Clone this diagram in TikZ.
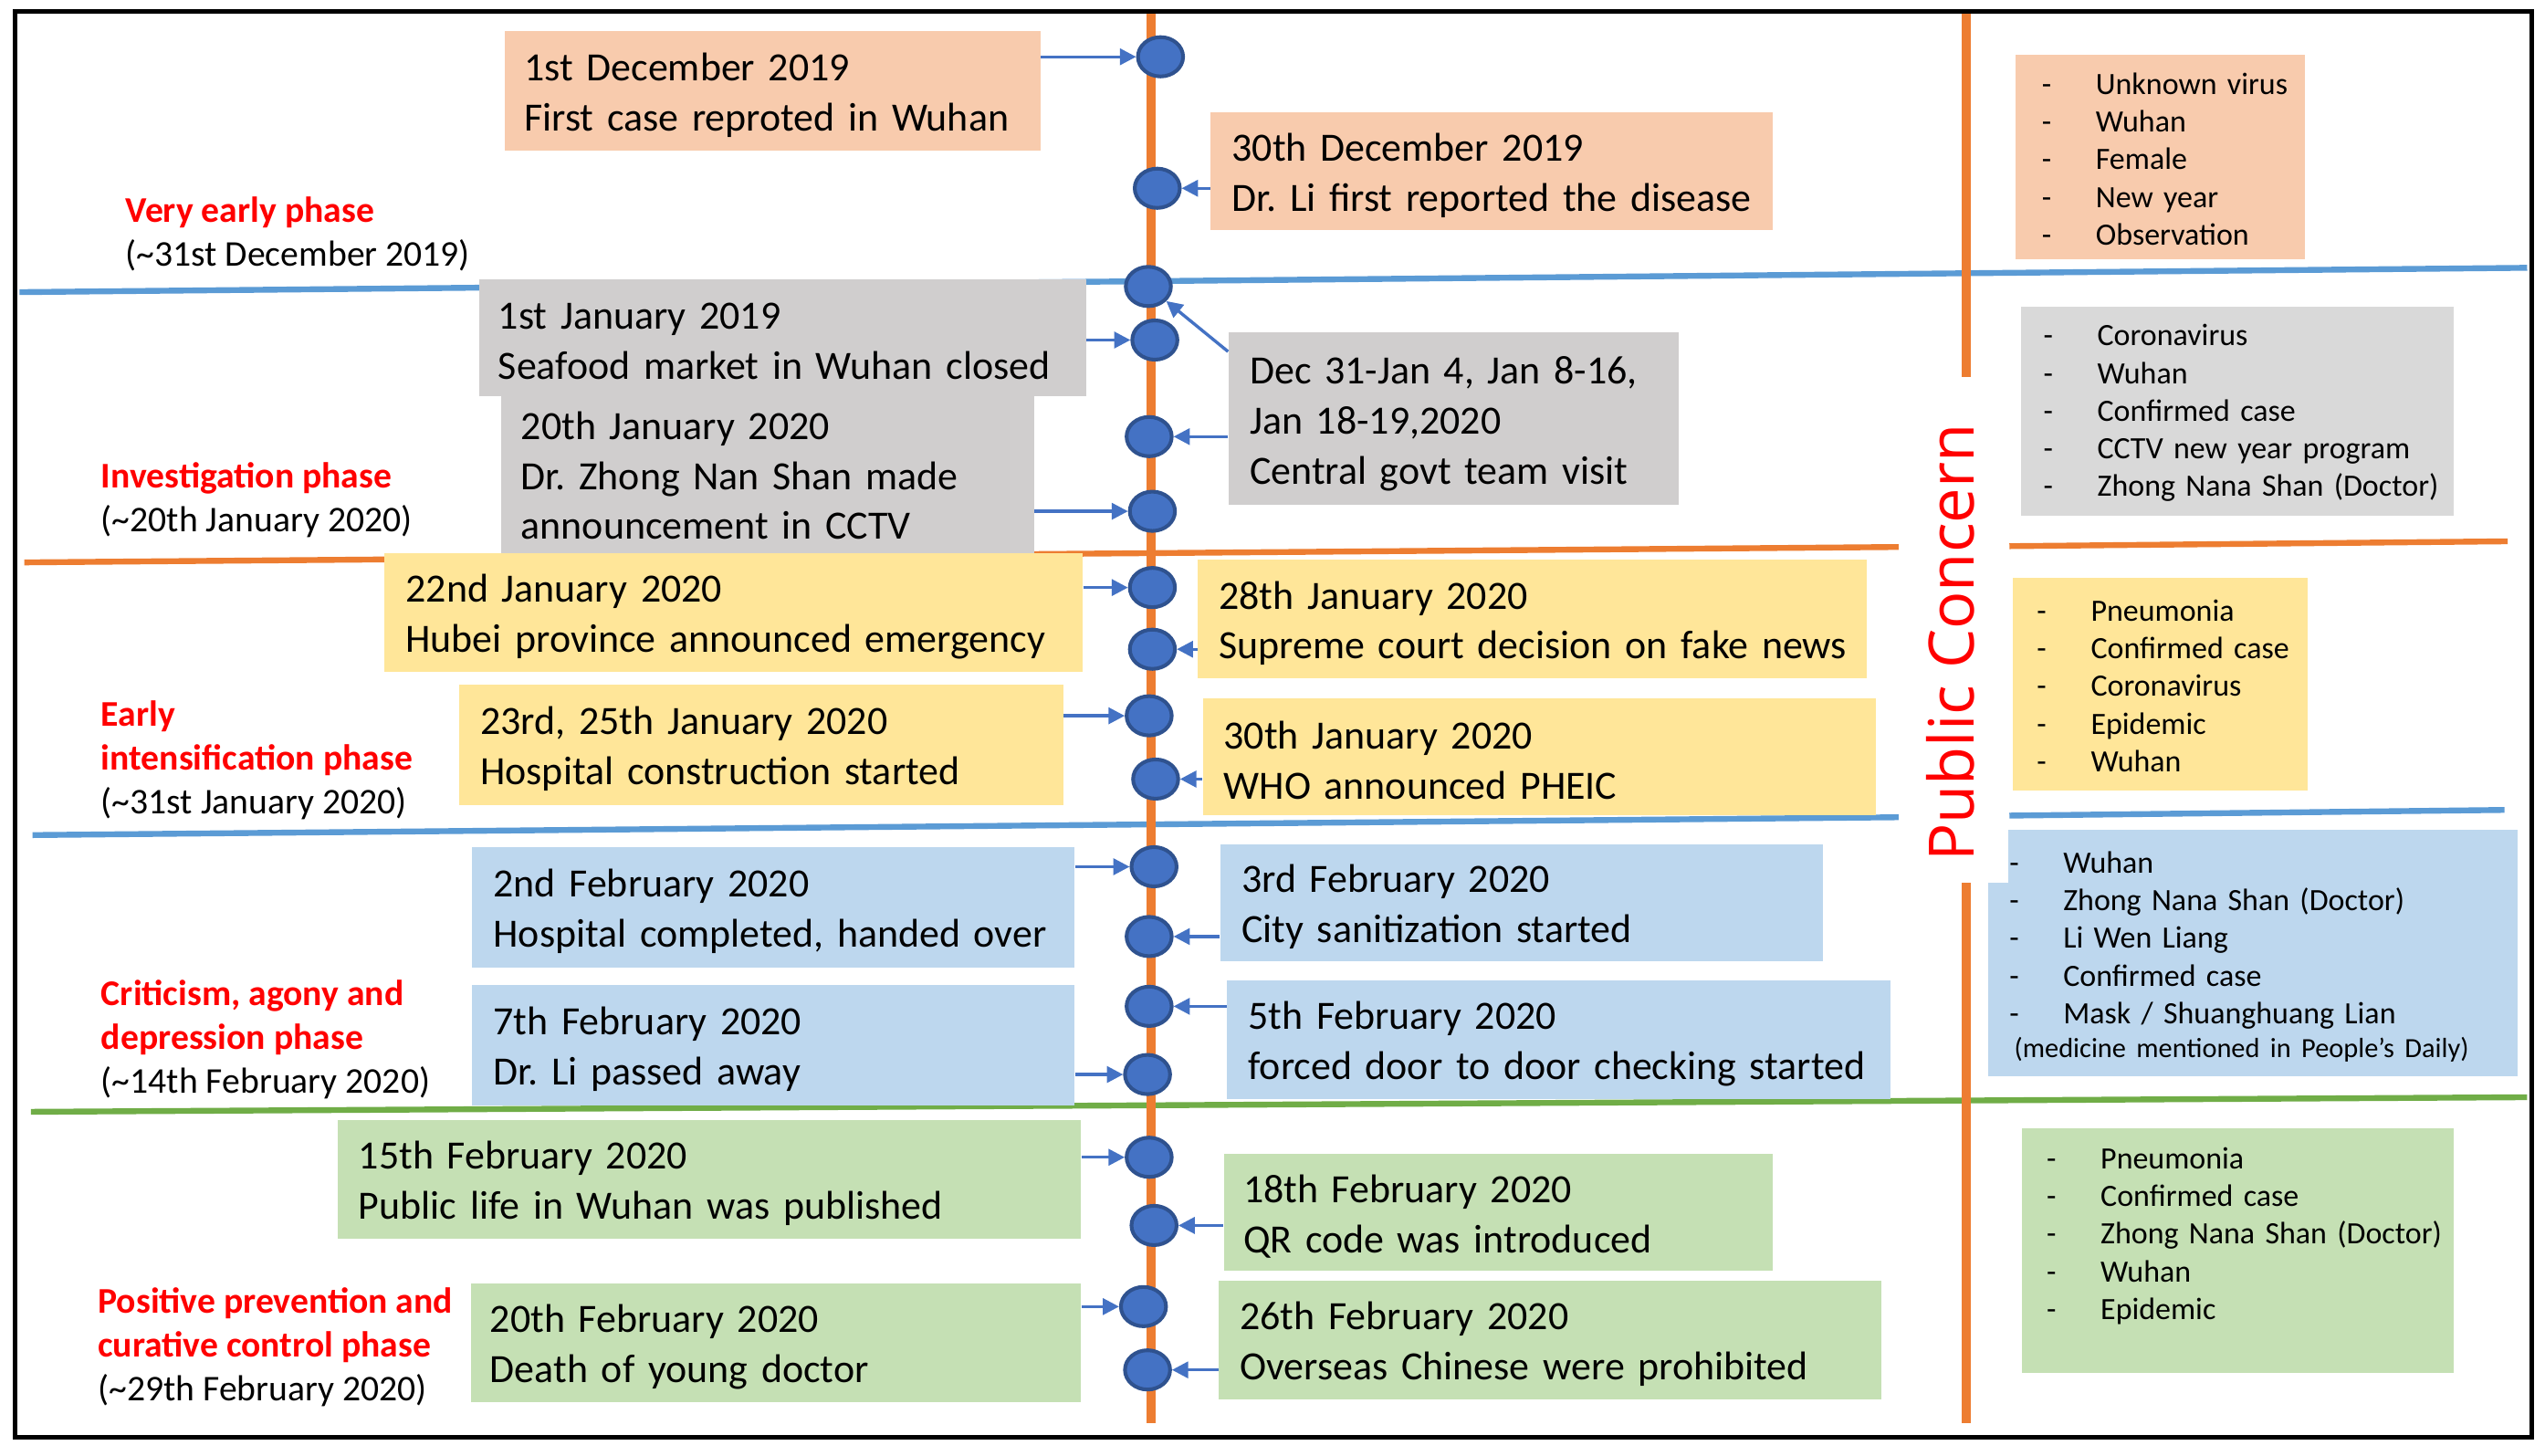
\documentclass[tikz,border=0pt]{standalone}
\usepackage{fontspec}
\setmainfont{Carlito}
\newfontfamily\pcfont{Open Sans}
\usetikzlibrary{arrows.meta,calc,shapes.geometric}
\frenchspacing
\definecolor{tlorange}{RGB}{237,125,49}
\definecolor{tlblue}{RGB}{68,114,196}
\definecolor{tlblueedge}{RGB}{47,82,143}
\definecolor{sepblue}{RGB}{91,155,213}
\definecolor{sepgreen}{RGB}{112,173,71}
\definecolor{peach}{RGB}{248,203,173}
\definecolor{grayev}{RGB}{208,206,206}
\definecolor{graykw}{RGB}{217,217,217}
\definecolor{yellowbx}{RGB}{255,230,153}
\definecolor{bluebx}{RGB}{189,215,238}
\definecolor{greenbx}{RGB}{197,224,180}
\newcommand\evfont{\fontsize{12.35pt}{15.45pt}\selectfont}
\newcommand\kwfont{\fontsize{9.55pt}{11.6pt}\selectfont}
\newcommand\phfont{\fontsize{11.15pt}{13.5pt}\selectfont}
\newcommand\evshift{1.25pt}
\newcommand\kwshift{0.5pt}
\newcommand\txl[1]{\mbox{\raisebox{-\evshift}[\height][\depth]{#1}}}
\newcommand\kwi[1]{\mbox{\raisebox{-\kwshift}[\height][\depth]{\makebox[16.6pt][l]{-}#1}}}
\newcommand\mkbox[9]{%
  \pgfmathsetmacro\bxW{(#4-#2)*0.5}%
  \pgfmathsetmacro\bxH{(#5-#3)*0.5}%
  \pgfmathsetmacro\bxT{(#4-#2-2*#7)*0.5}%
  \pgfmathsetmacro\bxP{#7*0.5}%
  \node[fill=#6, inner ysep=0pt, inner xsep=\bxP pt, minimum width=\bxW pt,
        minimum height=\bxH pt, text width=\bxT pt, align=left, font=#8]
        (#1) at ({(#2+#4)/2},{(#3+#5)/2}) {#9};}
\tikzset{
  dot/.style={ellipse, draw=tlblueedge, fill=tlblue, line width=1.15pt,
              minimum width=13.9pt, minimum height=12.1pt, inner sep=0pt},
  arr/.style={draw=tlblue, line width=0.95pt, -{Triangle[length=5pt,width=5pt]}},
  phase/.style={anchor=west, align=left, inner sep=0pt, font=\phfont},
  sep/.style={line width=1.8pt}
}
\begin{document}
\begin{tikzpicture}[x=0.5pt,y=-0.5pt]
\useasboundingbox (0,0) rectangle (1568,897);
\fill[white] (0,0) rectangle (1568,897);

% phase separators
\draw[sep, sepblue] (12,180) -- (1557,165);
\draw[sep, tlorange] (15,346.5) -- (1170,337);
\draw[sep, tlorange] (1238,336.5) -- (1545,333.5);
\draw[sep, sepblue] (20,514.5) -- (1170,503.5);
\draw[sep, sepblue] (1238,502.5) -- (1543,499);
\draw[sep, sepgreen] (19,685) -- (1557,676);

% vertical lines
\draw[tlorange, line width=2.8pt] (709,8) -- (709,877);
\draw[tlorange, line width=2.8pt] (1211.5,8) -- (1211.5,877);

% phase labels
\node[phase] (ph1) at (77,144) {\textcolor{red}{\bfseries Very early phase}\\(\textasciitilde 31st December 2019)};
\node[phase] (ph2) at (62,308) {\textcolor{red}{\bfseries Investigation phase}\\(\textasciitilde 20th January 2020)};
\node[phase] (ph3) at (62,468.5) {\textcolor{red}{\bfseries Early}\\\textcolor{red}{\bfseries intensification phase}\\(\textasciitilde 31st January 2020)};
\node[phase] (ph4) at (62,640.5) {\textcolor{red}{\bfseries Criticism, agony and}\\\textcolor{red}{\bfseries depression phase}\\(\textasciitilde 14th February 2020)};
\node[phase] (ph5) at (60,830) {\textcolor{red}{\bfseries Positive prevention and}\\\textcolor{red}{\bfseries curative control phase}\\(\textasciitilde 29th February 2020)};

% event boxes
\mkbox{A}{311}{19}{641}{93}{peach}{12}{\evfont}{\txl{1st December 2019}\\\txl{First case reproted in Wuhan}}
\mkbox{B}{746}{69}{1092}{142}{peach}{13}{\evfont}{\txl{30th December 2019}\\\txl{Dr. Li first reported the disease}}
\mkbox{C}{295}{172}{669}{244}{grayev}{12}{\evfont}{\txl{1st January 2019}\\\txl{Seafood market in Wuhan closed}}
\renewcommand\evshift{-0.5pt}
\mkbox{D}{309}{244}{637}{344}{grayev}{12}{\evfont}{\txl{20th January 2020}\\\txl{Dr. Zhong Nan Shan made}\\\txl{announcement in CCTV}}
\renewcommand\evshift{1.5pt}
\mkbox{E}{757}{205}{1034}{311}{grayev}{13}{\evfont}{\txl{Dec 31-Jan 4, Jan 8-16,}\\\txl{Jan 18-19,2020}\\\txl{Central govt team visit}}
\renewcommand\evshift{1.25pt}
\mkbox{F}{237}{341}{667}{414}{yellowbx}{13}{\evfont}{\txl{22nd January 2020}\\\txl{Hubei province announced emergency}}
\mkbox{G}{738}{345}{1150}{418}{yellowbx}{13}{\evfont}{\txl{28th January 2020}\\\txl{Supreme court decision on fake news}}
\mkbox{H}{283}{422}{655}{496}{yellowbx}{13}{\evfont}{\txl{23rd, 25th January 2020}\\\txl{Hospital construction started}}
\mkbox{I}{741}{430}{1156}{502}{yellowbx}{13}{\evfont}{\txl{30th January 2020}\\\txl{WHO announced PHEIC}}
\mkbox{J}{291}{522}{662}{596}{bluebx}{13}{\evfont}{\txl{2nd February 2020}\\\txl{Hospital completed, handed over}}
\mkbox{K}{752}{520}{1123}{592}{bluebx}{13}{\evfont}{\txl{3rd February 2020}\\\txl{City sanitization started}}
\mkbox{L}{291}{607}{662}{681}{bluebx}{13}{\evfont}{\txl{7th February 2020}\\\txl{Dr. Li passed away}}
\mkbox{M}{756}{604}{1165}{677}{bluebx}{13}{\evfont}{\txl{5th February 2020}\\\txl{forced door to door checking started}}
\mkbox{N}{208}{690}{666}{763}{greenbx}{13}{\evfont}{\txl{15th February 2020}\\\txl{Public life in Wuhan was published}}
\mkbox{O}{754}{711}{1092}{783}{greenbx}{12}{\evfont}{\txl{18th February 2020}\\\txl{QR code was introduced}}
\mkbox{P}{290}{791}{666}{864}{greenbx}{12}{\evfont}{\txl{20th February 2020}\\\txl{Death of young doctor}}
\mkbox{Q}{751}{789}{1159}{862}{greenbx}{13}{\evfont}{\txl{26th February 2020}\\\txl{Overseas Chinese were prohibited}}

% keyword boxes
\mkbox{kwA}{1242}{34}{1420}{160}{peach}{16}{\kwfont}{\kwi{Unknown virus}\\\kwi{Wuhan}\\\kwi{Female}\\\kwi{New year}\\\kwi{Observation}}
\mkbox{kwB}{1245}{189}{1512}{318}{graykw}{14}{\kwfont}{\kwi{Coronavirus}\\\kwi{Wuhan}\\\kwi{Confirmed case}\\\kwi{CCTV new year program}\\\kwi{Zhong Nana Shan (Doctor)}}
\mkbox{kwC}{1240}{356}{1422}{487}{yellowbx}{15}{\kwfont}{\kwi{Pneumonia}\\\kwi{Confirmed case}\\\kwi{Coronavirus}\\\kwi{Epidemic}\\\kwi{Wuhan}}
\renewcommand\kwshift{1.8pt}
\mkbox{kwD}{1225}{511}{1551}{663}{bluebx}{13}{\kwfont}{\kwi{Wuhan}\\\kwi{Zhong Nana Shan (Doctor)}\\\kwi{Li Wen Liang}\\\kwi{Confirmed case}\\\kwi{Mask / Shuanghuang Lian}\\\mbox{\raisebox{-0.6pt}[\height][\depth]{\fontsize{8.55pt}{11.6pt}\selectfont\hspace{1.5pt}(medicine mentioned in People’s Daily)}}}
\renewcommand\kwshift{0.5pt}
\mkbox{kwE}{1246}{695}{1512}{846}{greenbx}{15}{\kwfont}{\kwi{Pneumonia}\\\kwi{Confirmed case}\\\kwi{Zhong Nana Shan (Doctor)}\\\kwi{Wuhan}\\\kwi{Epidemic}\\\mbox{}}

% Public Concern label
\fill[white] (1170,232) rectangle (1237.5,544);
\node[rotate=90, text=red, font=\pcfont\fontsize{19.3pt}{23pt}\selectfont, inner sep=0pt] (pc) at (1202,396) {Public Concern};

% timeline dots
\node[dot] (c1) at (715,35) {};
\node[dot] (c2) at (713,116) {};
\node[dot] (c3) at (707.5,176.5) {};
\node[dot] (c4) at (711.5,209.5) {};
\node[dot] (c5) at (708,269) {};
\node[dot] (c6) at (710,315) {};
\node[dot] (c7) at (710,362) {};
\node[dot] (c8) at (710,400) {};
\node[dot] (c9) at (708,441) {};
\node[dot] (c10) at (712,480) {};
\node[dot] (c11) at (711,534) {};
\node[dot] (c12) at (708,577) {};
\node[dot] (c13) at (708,620) {};
\node[dot] (c14) at (707,662) {};
\node[dot] (c15) at (708,713) {};
\node[dot] (c16) at (711,755) {};
\node[dot] (c17) at (704.5,805) {};
\node[dot] (c18) at (707,844) {};

% arrows
\draw[arr] (A.east |- c1) -- (c1);
\draw[arr] (B.west |- c2) -- (c2);
\draw[arr] ($(E.north west)+(0,12)$) -- (c3);
\draw[arr] (C.east |- c4) -- (c4);
\draw[arr] (E.west |- c5) -- (c5);
\draw[arr] (D.east |- c6) -- (c6);
\draw[arr] (F.east |- c7) -- (c7);
\draw[arr] (G.west |- c8) -- (c8);
\draw[arr] (H.east |- c9) -- (c9);
\draw[arr] (I.west |- c10) -- (c10);
\draw[arr] (J.east |- c11) -- (c11);
\draw[arr] (K.west |- c12) -- (c12);
\draw[arr] (M.west |- c13) -- (c13);
\draw[arr] (L.east |- c14) -- (c14);
\draw[arr] (N.east |- c15) -- (c15);
\draw[arr] (O.west |- c16) -- (c16);
\draw[arr] (P.east |- c17) -- (c17);
\draw[arr] (Q.west |- c18) -- (c18);

% frame
\draw[line width=1.4pt] (9.5,7) rectangle (1560,885.5);
\end{tikzpicture}
\end{document}
